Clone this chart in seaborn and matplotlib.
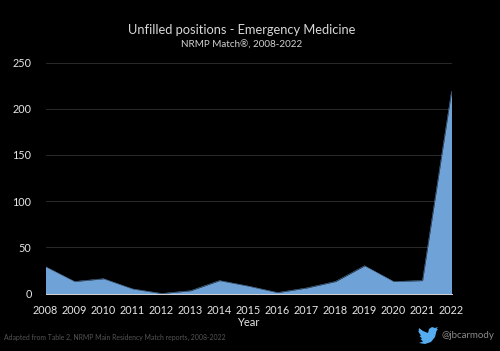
import matplotlib
matplotlib.use("Agg")
import matplotlib.pyplot as plt
from matplotlib.patches import Polygon
import pandas as pd
import seaborn as sns

years = [2008, 2009, 2010, 2011, 2012, 2013, 2014, 2015, 2016, 2017, 2018, 2019, 2020, 2021, 2022]
unfilled = [29, 13, 16, 5, 0, 3, 14, 8, 1, 6, 13, 30, 13, 14, 219]
y_ticks = [0, 50, 100, 150, 200, 250]
title = "Unfilled positions - Emergency Medicine"
subtitle = "NRMP Match®, 2008-2022"
x_label = "Year"
source = "Adapted from Table 2, NRMP Main Residency Match reports, 2008-2022"
handle = "@jbcarmody"

sns.set_theme(style="dark", rc={
    "figure.facecolor": "black", "axes.facecolor": "black",
    "axes.edgecolor": "#d8d8d8", "text.color": "#e6e6e6",
    "axes.labelcolor": "#e6e6e6", "xtick.color": "#e6e6e6", "ytick.color": "#e6e6e6",
})
plt.rcParams["font.family"] = ["Lato", "DejaVu Sans"]

W, H = 500, 351
fig = plt.figure(figsize=(W / 100, H / 100), dpi=100)
L, R, T, B = 45.5, 451.5, 62.5, 293.5
ax = fig.add_axes([L / W, 1 - B / H, (R - L) / W, (B - T) / H])

df = pd.DataFrame({"year": years, "unfilled": unfilled})
blue = "#6fa3d8"
sns.lineplot(data=df, x="year", y="unfilled", ax=ax, color=blue, linewidth=0.3)
ax.fill_between(df["year"], df["unfilled"], 0, color=blue, linewidth=0, zorder=3)

ax.set_xlim(years[0], years[-1])
ax.set_ylim(0, 250)
ax.set_xticks(years)
ax.set_yticks(y_ticks)
ax.set_xlabel(x_label, fontsize=8, labelpad=1)
ax.set_ylabel("")
ax.tick_params(axis="x", labelsize=7.8, length=3, width=0.7, color="#d8d8d8", pad=5)
ax.tick_params(axis="y", labelsize=7.8, length=0, pad=10)
ax.grid(axis="y", color="#2b2b2b", linewidth=0.7)
ax.grid(axis="x", visible=False)
ax.set_axisbelow(True)
for s in ["top", "right", "left"]:
    ax.spines[s].set_visible(False)
ax.spines["bottom"].set_linewidth(0.7)
ax.spines["bottom"].set_zorder(4)

fig.text(242 / W, 1 - 30 / H, title, ha="center", va="center", fontsize=9.25, color="#d8d8d8")
fig.text(242 / W, 1 - 45 / H, subtitle, ha="center", va="center", fontsize=7.1, color="#d0d0d0")
fig.text(4 / W, 1 - 337 / H, source, ha="left", va="center", fontsize=4.95, color="#555555")
fig.text(441 / W, 1 - 335 / H, handle, ha="left", va="center", fontsize=7.0, color="#8a8a8a")

bird = [(419, 328), (423, 331), (428, 333), (429, 329), (432, 327), (435, 328), (438, 327),
        (436.5, 329), (438, 329), (436.5, 331), (435, 337), (431, 342), (425, 344), (419, 343),
        (423, 341.5), (420.5, 339), (422, 338.5), (419.5, 336), (421, 335.5), (418.5, 332)]
fig.add_artist(Polygon([(x / W, 1 - y / H) for x, y in bird], closed=True,
                       transform=fig.transFigure, facecolor="#55acee", edgecolor="none"))

fig.savefig("out.png", dpi=100, facecolor="black")
